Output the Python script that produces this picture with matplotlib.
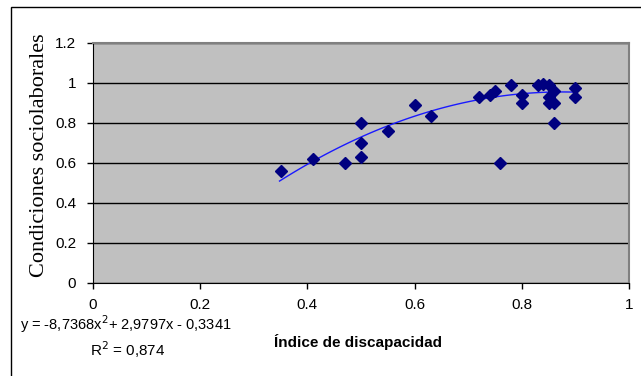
import matplotlib
matplotlib.use("Agg")
import matplotlib.pyplot as plt
import numpy as np
from matplotlib.patches import Rectangle

# data
discapacidad = [0.35, 0.41, 0.47, 0.50, 0.50, 0.50, 0.55, 0.60, 0.63, 0.72,
                0.74, 0.75, 0.76, 0.78, 0.80, 0.80, 0.83, 0.84, 0.85, 0.85,
                0.85, 0.86, 0.86, 0.86, 0.90, 0.90]
sociolaborales = [0.56, 0.62, 0.60, 0.80, 0.70, 0.63, 0.76, 0.89, 0.835, 0.93,
                  0.94, 0.96, 0.60, 0.99, 0.94, 0.90, 0.99, 0.995, 0.99, 0.93,
                  0.90, 0.96, 0.90, 0.80, 0.975, 0.93]
# points read along the drawn trendline
trend_x = [0.348, 0.405, 0.492, 0.56, 0.685, 0.719, 0.756, 0.821, 0.899]
trend_y = [0.505, 0.617, 0.701, 0.80, 0.90, 0.919, 0.932, 0.952, 0.952]
xticks = [0, 0.2, 0.4, 0.6, 0.8, 1]
yticks = [0, 0.2, 0.4, 0.6, 0.8, 1, 1.2]
eq_text = "y = -8,7368x$^2$+ 2,9797x - 0,3341"
r2_text = "R$^2$ = 0,874"

fig = plt.figure(figsize=(6.41, 3.76), dpi=100)
ax = fig.add_axes([93 / 641, 1 - 283 / 376, 536 / 641, 240 / 376])
ax.set_facecolor("#c0c0c0")

# outer chart border (right and bottom edges fall outside the image)
fig.add_artist(Rectangle((10.5 / 641, -0.2), 1.2, 1.2 - 7 / 376,
                         transform=fig.transFigure, fill=False,
                         edgecolor="black", lw=1))

# order-2 trendline, smoothed through the read points
coef = np.polyfit(trend_x, trend_y, 2)
tx = np.linspace(trend_x[0], trend_x[-1], 100)
ax.plot(tx, np.polyval(coef, tx), color="#1a1aff", lw=1, zorder=2)

ax.plot(discapacidad, sociolaborales, linestyle="", marker="D",
        color="#000080", markersize=6, zorder=3)

ax.set_xlim(0, 1)
ax.set_ylim(0, 1.2)
ax.set_xticks(xticks)
ax.set_yticks(yticks)
ax.set_xticklabels(["0", "0.2", "0.4", "0.6", "0.8", "1"])
ax.set_yticklabels(["0", "0.2", "0.4", "0.6", "0.8", "1", "1.2"])
ax.tick_params(direction="out", length=4, width=1, colors="black",
               labelsize=11)
ax.tick_params(axis="x", pad=7)
ax.tick_params(axis="y", pad=8)
for lab in ax.get_xticklabels() + ax.get_yticklabels():
    lab.set_fontfamily("Liberation Sans")

ax.grid(axis="y", color="black", lw=1)
ax.set_axisbelow(True)
ax.spines["left"].set_color("black")
ax.spines["bottom"].set_color("black")
ax.spines["top"].set_color("#808080")
ax.spines["right"].set_color("#808080")
ax.spines["top"].set_linewidth(1.5)
ax.spines["right"].set_linewidth(1.5)

fig.text(40 / 641, 1 - 155 / 376, "Condiciones sociolaborales",
         family="Liberation Serif", fontsize=16, rotation=90,
         va="center", ha="center")

fig.text(20 / 641, 1 - 324 / 376, eq_text, family="Liberation Sans",
         fontsize=10.5, va="center", ha="left")
fig.text(128 / 641, 1 - 350 / 376, r2_text, family="Liberation Sans",
         fontsize=11, va="center", ha="center")
fig.text(358 / 641, 1 - 342 / 376, "Índice de discapacidad",
         family="Liberation Sans", fontsize=11, fontweight="bold",
         va="center", ha="center")

fig.savefig("out.png", dpi=100)
